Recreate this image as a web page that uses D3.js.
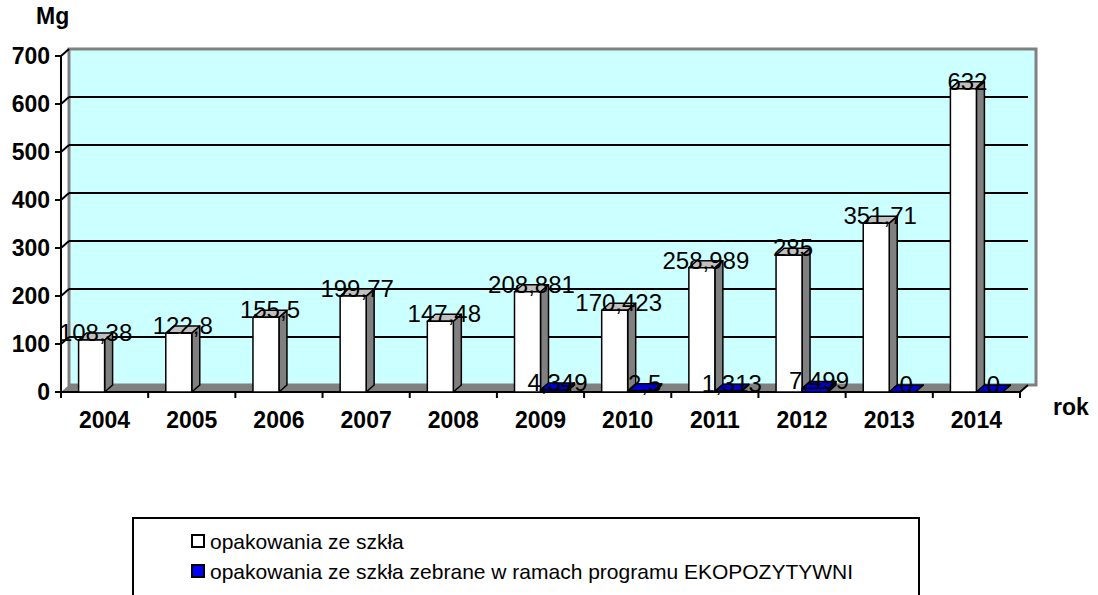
<!DOCTYPE html>
<html><head><meta charset="utf-8">
<script src="https://cdn.jsdelivr.net/npm/d3@7"></script>
<style>body{margin:0;background:#fff}svg{display:block}text{font-family:Arial,"Liberation Sans",sans-serif}</style>
</head><body><svg id="c" width="1098" height="595"></svg>
<script>
const years = ["2004","2005","2006","2007","2008","2009","2010","2011","2012","2013","2014"];
const glass = [108.38,122.8,155.5,199.77,147.48,208.881,170.423,258.989,285,351.71,632];
const eko = [null,null,null,null,null,4.349,2.5,1.313,7.499,0,0];
const yTicks = [0,100,200,300,400,500,600,700];
const seriesNames = ["opakowania ze szkła","opakowania ze szkła zebrane w ramach programu EKOPOZYTYWNI"];

const svg = d3.select("#c");
const X0 = 61, X1 = 1020, Y0 = 392, Y1 = 56, DX = 8, DY = 7;
const x = d3.scaleBand().domain(years).range([X0, X1]).paddingInner(0).paddingOuter(0);
const xs = d3.scaleBand().domain(["s0","s1"]).range([0, x.bandwidth()]).paddingInner(0).paddingOuter(0.677);
const y = d3.scaleLinear().domain([0,700]).range([Y0, Y1]);
const fmt = v => String(v).replace(".", ",");

// side wall
svg.append("polygon").attr("points",[[X0,Y1],[X0+DX,Y1-DY],[X0+DX,Y0-DY],[X0,Y0]].join(" ")).attr("fill","#fff");
// back wall
svg.append("rect").attr("x",X0+DX).attr("y",Y1-DY).attr("width",X1-X0+DX).attr("height",Y0-Y1)
  .attr("fill","#ccffff").attr("stroke","#808080").attr("stroke-width",3);
// floor
svg.append("polygon").attr("points",[[X0,Y0],[X1,Y0],[X1+DX,Y0-DY],[X0+DX,Y0-DY]].join(" ")).attr("fill","#808080");
svg.append("polyline").attr("points",[[X0,Y0],[X1,Y0],[X1+DX,Y0-DY]].join(" ")).attr("fill","none").attr("stroke","#000").attr("stroke-width",2);

// gridlines
yTicks.filter(v=>v>0).forEach(v=>{
  const yy = y(v);
  svg.append("line").attr("x1",X0).attr("y1",yy).attr("x2",X0+DX).attr("y2",yy-DY).attr("stroke","#000").attr("stroke-width",2);
  if (v<700) svg.append("line").attr("x1",X0+DX).attr("y1",yy-DY).attr("x2",X1+DX).attr("y2",yy-DY).attr("stroke","#000").attr("stroke-width",2);
});

// y axis
svg.append("line").attr("x1",X0).attr("y1",Y1).attr("x2",X0).attr("y2",Y0).attr("stroke","#000").attr("stroke-width",2);
yTicks.forEach(v=>{
  svg.append("line").attr("x1",X0-6).attr("x2",X0).attr("y1",y(v)).attr("y2",y(v)).attr("stroke","#000").attr("stroke-width",2);
  svg.append("text").attr("x",50).attr("y",y(v)).attr("dy","0.36em").attr("text-anchor","end")
    .attr("font-size",23).attr("font-weight","bold").text(v);
});
// x ticks
years.concat(["end"]).forEach((yr,i)=>{
  const xx = X0 + i*x.step();
  svg.append("line").attr("x1",xx).attr("x2",xx).attr("y1",Y0).attr("y2",Y0+6).attr("stroke","#000").attr("stroke-width",2);
});
years.forEach(yr=>{
  svg.append("text").attr("x",x(yr)+x.bandwidth()/2).attr("y",428).attr("text-anchor","middle")
    .attr("font-size",23).attr("font-weight","bold").text(yr);
});

function bar3d(x0, w, v, cFront, cSide, cTop){
  const yt = y(v), x1 = x0 + w;
  const g = svg.append("g").attr("stroke","#000").attr("stroke-width",1.5).attr("stroke-linejoin","round");
  g.append("polygon").attr("points",[[x1,Y0],[x1+DX,Y0-DY],[x1+DX,yt-DY],[x1,yt]].join(" ")).attr("fill",cSide);
  g.append("polygon").attr("points",[[x0,yt],[x1,yt],[x1+DX,yt-DY],[x0+DX,yt-DY]].join(" ")).attr("fill",cTop);
  g.append("rect").attr("x",x0).attr("y",yt).attr("width",w).attr("height",Y0-yt).attr("fill",cFront);
}
const labels = [];
years.forEach((yr,i)=>{
  const w = xs.bandwidth();
  const xa = x(yr)+xs("s0");
  bar3d(xa, w, glass[i], "#ffffff", "#808080", "#c0c0c0");
  labels.push([xa+w/2+DX/2, y(glass[i])+1, glass[i]]);
  if (eko[i] !== null){
    const xb = x(yr)+xs("s1");
    bar3d(xb, w, eko[i], "#0000ff", "#000080", "#0000cc");
    labels.push([xb+w/2+DX/2, y(eko[i])+1, eko[i]]);
  }
});
labels.forEach(([lx,ly,v])=>{
  svg.append("text").attr("x",lx).attr("y",ly).attr("text-anchor","middle").attr("font-size",24).text(fmt(v));
});

svg.append("text").attr("x",36).attr("y",24).attr("font-size",23).attr("font-weight","bold").text("Mg");
svg.append("text").attr("x",1053).attr("y",415).attr("font-size",23).attr("font-weight","bold").text("rok");

// legend
const lg = svg.append("g");
lg.append("rect").attr("x",133).attr("y",518).attr("width",786).attr("height",100).attr("fill","#fff").attr("stroke","#000").attr("stroke-width",2);
const legColors = ["#ffffff","#0000ff"];
seriesNames.forEach((n,i)=>{
  const cy = 541 + i*30;
  lg.append("rect").attr("x",192).attr("y",cy-6).attr("width",12).attr("height",12).attr("fill",legColors[i]).attr("stroke","#000").attr("stroke-width",2);
  lg.append("text").attr("x",210).attr("y",cy).attr("dy","0.36em").attr("font-size",21).text(n);
});
</script></body></html>
